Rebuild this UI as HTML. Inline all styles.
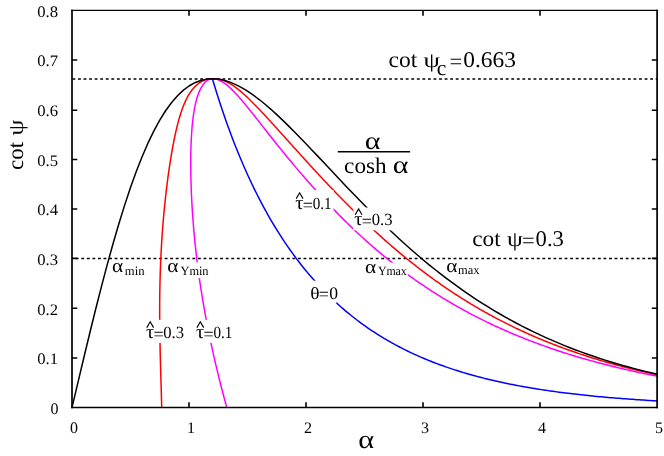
<!DOCTYPE html>
<html><head><meta charset="utf-8"><title>chart</title><style>html,body{margin:0;padding:0;background:#fff}svg{display:block}</style></head><body>
<svg style="will-change:transform" width="664" height="456" viewBox="0 0 664 456">
<style>text{font-family:"Liberation Serif",serif;fill:#000;text-rendering:geometricPrecision}</style>
<rect width="664" height="456" fill="#fff"/>
<line x1="72.0" x2="657.0" y1="78.95" y2="78.95" stroke="#000" stroke-width="1.5" stroke-dasharray="2.85 2.705" stroke-dashoffset="5.11"/>
<line x1="72.0" x2="657.0" y1="258.45" y2="258.45" stroke="#000" stroke-width="1.5" stroke-dasharray="2.85 2.705" stroke-dashoffset="1.8"/>
<path d="M161.71,407.60 L161.66,405.40 L161.60,403.21 L161.54,401.03 L161.48,398.86 L161.42,396.69 L161.36,394.53 L161.30,392.38 L161.24,390.24 L161.18,388.10 L161.12,385.97 L161.05,383.85 L160.99,381.73 L160.93,379.62 L160.87,377.52 L160.81,375.43 L160.75,373.34 L160.69,371.26 L160.63,369.19 L160.58,367.13 L160.52,365.07 L160.47,363.02 L160.41,360.98 L160.36,358.95 L160.31,356.92 L160.26,354.90 L160.21,352.89 L160.17,350.88 L160.12,348.88 L160.08,346.89 L160.04,344.91 L160.00,342.94 L159.96,340.97 L159.93,339.01 L159.89,337.05 L159.86,335.11 L159.83,333.17 L159.81,331.24 L159.78,329.31 L159.76,327.40 L159.74,325.49 L159.72,323.59 L159.71,321.69 L159.70,319.80 L159.69,317.92 L159.68,316.05 L159.67,314.19 L159.67,312.33 L159.67,310.48 L159.67,308.63 L159.67,306.80 L159.68,304.97 L159.69,303.15 L159.70,301.34 L159.72,299.53 L159.73,297.73 L159.75,295.94 L159.78,294.15 L159.80,292.38 L159.83,290.61 L159.86,288.85 L159.89,287.09 L159.92,285.34 L159.96,283.60 L160.00,281.87 L160.04,280.15 L160.09,278.43 L160.14,276.72 L160.18,275.01 L160.24,273.32 L160.29,271.63 L160.35,269.95 L160.41,268.27 L160.47,266.61 L160.53,264.95 L160.60,263.30 L160.67,261.65 L160.74,260.01 L160.81,258.38 L160.89,256.76 L160.97,255.15 L161.05,253.54 L161.13,251.94 L161.21,250.35 L161.30,248.76 L161.39,247.18 L161.48,245.61 L161.57,244.05 L161.67,242.49 L161.76,240.94 L161.86,239.40 L161.96,237.87 L162.07,236.34 L162.17,234.82 L162.28,233.31 L162.39,231.80 L162.50,230.31 L162.61,228.82 L162.72,227.33 L162.84,225.86 L162.95,224.39 L163.07,222.93 L163.19,221.48 L163.32,220.03 L163.44,218.59 L163.56,217.16 L163.69,215.74 L163.82,214.32 L163.95,212.91 L164.08,211.51 L164.21,210.12 L164.35,208.73 L164.48,207.35 L164.62,205.98 L164.76,204.61 L164.90,203.26 L165.04,201.91 L165.18,200.56 L165.32,199.23 L165.46,197.90 L165.61,196.58 L165.76,195.27 L165.90,193.96 L166.05,192.66 L166.20,191.37 L166.35,190.09 L166.51,188.81 L166.66,187.54 L166.81,186.28 L166.97,185.02 L167.13,183.78 L167.28,182.54 L167.44,181.30 L167.60,180.08 L167.76,178.86 L167.92,177.65 L168.08,176.45 L168.25,175.25 L168.41,174.06 L168.57,172.88 L168.74,171.71 L168.91,170.54 L169.07,169.38 L169.24,168.23 L169.41,167.09 L169.58,165.95 L169.75,164.82 L169.92,163.70 L170.09,162.59 L170.27,161.48 L170.44,160.38 L170.61,159.29 L170.79,158.20 L170.97,157.12 L171.14,156.05 L171.32,154.99 L171.50,153.93 L171.68,152.88 L171.86,151.84 L172.04,150.81 L172.22,149.78 L172.40,148.76 L172.59,147.75 L172.77,146.75 L172.96,145.75 L173.14,144.76 L173.33,143.78 L173.52,142.80 L173.71,141.84 L173.90,140.88 L174.09,139.92 L174.28,138.98 L174.47,138.04 L174.66,137.11 L174.86,136.19 L175.05,135.27 L175.25,134.36 L175.45,133.46 L175.64,132.57 L175.84,131.68 L176.04,130.80 L176.25,129.93 L176.45,129.06 L176.65,128.21 L176.86,127.36 L177.06,126.51 L177.27,125.68 L177.48,124.85 L177.69,124.03 L177.90,123.22 L178.11,122.41 L178.33,121.61 L178.54,120.82 L178.76,120.04 L178.98,119.26 L179.19,118.49 L179.41,117.73 L179.64,116.98 L179.86,116.23 L180.08,115.49 L180.31,114.76 L180.54,114.04 L180.77,113.32 L181.00,112.61 L181.23,111.91 L181.47,111.21 L181.70,110.52 L181.94,109.84 L182.18,109.17 L182.42,108.50 L182.66,107.84 L182.91,107.19 L183.16,106.55 L183.40,105.91 L183.66,105.28 L183.91,104.66 L184.16,104.05 L184.42,103.44 L184.68,102.84 L184.94,102.25 L185.20,101.66 L185.46,101.09 L185.73,100.52 L186.00,99.95 L186.27,99.40 L186.54,98.85 L186.82,98.31 L187.09,97.78 L187.37,97.25 L187.65,96.73 L187.94,96.22 L188.22,95.72 L188.51,95.22 L188.80,94.73 L189.09,94.25 L189.39,93.77 L189.69,93.31 L189.99,92.85 L190.29,92.39 L190.59,91.95 L190.90,91.51 L191.21,91.08 L191.52,90.66 L191.83,90.24 L192.15,89.83 L192.47,89.43 L192.79,89.04 L193.11,88.65 L193.44,88.27 L193.77,87.90 L194.10,87.54 L194.43,87.18 L194.76,86.83 L195.10,86.49 L195.44,86.15 L195.78,85.83 L196.13,85.51 L196.47,85.19 L196.82,84.89 L197.17,84.59 L197.52,84.30 L197.88,84.02 L198.24,83.74 L198.59,83.47 L198.96,83.21 L199.32,82.96 L199.68,82.71 L200.05,82.47 L200.42,82.24 L200.79,82.01 L201.16,81.80 L201.54,81.59 L201.91,81.39 L202.29,81.19 L202.67,81.00 L203.05,80.82 L203.43,80.65 L203.81,80.48 L204.20,80.33 L204.58,80.18 L204.97,80.03 L205.35,79.90 L205.74,79.77 L206.13,79.65 L206.52,79.53 L206.91,79.42 L207.30,79.33 L207.69,79.23 L208.08,79.15 L208.47,79.07 L208.86,79.00 L209.25,78.94 L209.65,78.88 L210.04,78.84 L210.43,78.80 L210.82,78.76 L211.20,78.74 L211.59,78.72 L211.98,78.71 L212.36,78.70 L212.36,78.70 L213.85,78.73 L215.34,78.80 L216.82,78.94 L218.31,79.16 L219.80,79.45 L221.29,79.83 L222.77,80.29 L224.26,80.84 L225.75,81.46 L227.23,82.16 L228.72,82.94 L230.21,83.79 L231.69,84.70 L233.18,85.68 L234.67,86.71 L236.16,87.80 L237.64,88.94 L239.13,90.13 L240.62,91.37 L242.10,92.64 L243.59,93.95 L245.08,95.30 L246.57,96.67 L248.05,98.08 L249.54,99.51 L251.03,100.97 L252.51,102.45 L254.00,103.94 L255.49,105.46 L256.98,106.99 L258.46,108.54 L259.95,110.10 L261.44,111.68 L262.92,113.26 L264.41,114.86 L265.90,116.46 L267.38,118.07 L268.87,119.69 L270.36,121.31 L271.85,122.94 L273.33,124.58 L274.82,126.22 L276.31,127.86 L277.79,129.50 L279.28,131.15 L280.77,132.80 L282.26,134.45 L283.74,136.11 L285.23,137.76 L286.72,139.41 L288.20,141.07 L289.69,142.72 L291.18,144.37 L292.66,146.03 L294.15,147.68 L295.64,149.33 L297.13,150.98 L298.61,152.62 L300.10,154.27 L301.59,155.91 L303.07,157.55 L304.56,159.19 L306.05,160.82 L307.54,162.45 L309.02,164.08 L310.51,165.71 L312.00,167.33 L313.48,168.94 L314.97,170.56 L316.46,172.17 L317.95,173.77 L319.43,175.38 L320.92,176.97 L322.41,178.56 L323.89,180.15 L325.38,181.74 L326.87,183.31 L328.35,184.89 L329.84,186.45 L331.33,188.02 L332.82,189.57 L334.30,191.13 L335.79,192.67 L337.28,194.21 L338.76,195.75 L340.25,197.28 L341.74,198.80 L343.23,200.32 L344.71,201.83 L346.20,203.33 L347.69,204.83 L349.17,206.32 L350.66,207.81 L352.15,209.29 L353.64,210.76 L355.12,212.23 L356.61,213.69 L358.10,215.14 L359.58,216.58 L361.07,218.02 L362.56,219.45 L364.04,220.88 L365.53,222.30 L367.02,223.71 L368.51,225.11 L369.99,226.51 L371.48,227.90 L372.97,229.28 L374.45,230.65 L375.94,232.02 L377.43,233.38 L378.92,234.73 L380.40,236.08 L381.89,237.42 L383.38,238.75 L384.86,240.07 L386.35,241.39 L387.84,242.70 L389.33,244.00 L390.81,245.29 L392.30,246.57 L393.79,247.85 L395.27,249.12 L396.76,250.39 L398.25,251.64 L399.73,252.89 L401.22,254.13 L402.71,255.36 L404.20,256.59 L405.68,257.80 L407.17,259.01 L408.66,260.22 L410.14,261.41 L411.63,262.60 L413.12,263.78 L414.61,264.95 L416.09,266.11 L417.58,267.27 L419.07,268.42 L420.55,269.56 L422.04,270.69 L423.53,271.82 L425.02,272.94 L426.50,274.05 L427.99,275.16 L429.48,276.25 L430.96,277.34 L432.45,278.43 L433.94,279.50 L435.42,280.57 L436.91,281.63 L438.40,282.68 L439.89,283.73 L441.37,284.76 L442.86,285.80 L444.35,286.82 L445.83,287.84 L447.32,288.85 L448.81,289.85 L450.30,290.84 L451.78,291.83 L453.27,292.81 L454.76,293.79 L456.24,294.75 L457.73,295.71 L459.22,296.67 L460.71,297.61 L462.19,298.55 L463.68,299.49 L465.17,300.41 L466.65,301.33 L468.14,302.24 L469.63,303.15 L471.11,304.05 L472.60,304.94 L474.09,305.82 L475.58,306.70 L477.06,307.57 L478.55,308.44 L480.04,309.30 L481.52,310.15 L483.01,311.00 L484.50,311.84 L485.99,312.67 L487.47,313.50 L488.96,314.32 L490.45,315.13 L491.93,315.94 L493.42,316.75 L494.91,317.54 L496.40,318.33 L497.88,319.12 L499.37,319.89 L500.86,320.66 L502.34,321.43 L503.83,322.19 L505.32,322.94 L506.80,323.69 L508.29,324.43 L509.78,325.17 L511.27,325.90 L512.75,326.63 L514.24,327.34 L515.73,328.06 L517.21,328.77 L518.70,329.47 L520.19,330.16 L521.68,330.86 L523.16,331.54 L524.65,332.22 L526.14,332.90 L527.62,333.56 L529.11,334.23 L530.60,334.89 L532.09,335.54 L533.57,336.19 L535.06,336.83 L536.55,337.47 L538.03,338.10 L539.52,338.73 L541.01,339.35 L542.49,339.97 L543.98,340.58 L545.47,341.18 L546.96,341.79 L548.44,342.38 L549.93,342.98 L551.42,343.56 L552.90,344.15 L554.39,344.72 L555.88,345.30 L557.37,345.86 L558.85,346.43 L560.34,346.99 L561.83,347.54 L563.31,348.09 L564.80,348.64 L566.29,349.18 L567.78,349.71 L569.26,350.24 L570.75,350.77 L572.24,351.29 L573.72,351.81 L575.21,352.32 L576.70,352.83 L578.18,353.34 L579.67,353.84 L581.16,354.34 L582.65,354.83 L584.13,355.32 L585.62,355.80 L587.11,356.28 L588.59,356.76 L590.08,357.23 L591.57,357.70 L593.06,358.16 L594.54,358.62 L596.03,359.08 L597.52,359.53 L599.00,359.98 L600.49,360.42 L601.98,360.86 L603.47,361.30 L604.95,361.73 L606.44,362.16 L607.93,362.59 L609.41,363.01 L610.90,363.43 L612.39,363.84 L613.87,364.25 L615.36,364.66 L616.85,365.07 L618.34,365.47 L619.82,365.86 L621.31,366.26 L622.80,366.65 L624.28,367.03 L625.77,367.42 L627.26,367.80 L628.75,368.17 L630.23,368.55 L631.72,368.92 L633.21,369.28 L634.69,369.65 L636.18,370.01 L637.67,370.36 L639.16,370.72 L640.64,371.07 L642.13,371.42 L643.62,371.76 L645.10,372.10 L646.59,372.44 L648.08,372.78 L649.56,373.11 L651.05,373.44 L652.54,373.77 L654.03,374.09 L655.51,374.41 L657.00,374.73" fill="none" stroke="#f00" stroke-width="1.5" stroke-linejoin="round"/>
<path d="M226.79,407.60 L226.19,405.40 L225.60,403.21 L225.01,401.03 L224.43,398.86 L223.85,396.69 L223.28,394.53 L222.72,392.38 L222.16,390.24 L221.60,388.10 L221.06,385.97 L220.52,383.85 L219.98,381.73 L219.45,379.62 L218.93,377.52 L218.41,375.43 L217.90,373.34 L217.40,371.26 L216.90,369.19 L216.40,367.13 L215.91,365.07 L215.43,363.02 L214.95,360.98 L214.48,358.95 L214.02,356.92 L213.56,354.90 L213.11,352.89 L212.66,350.88 L212.22,348.88 L211.78,346.89 L211.35,344.91 L210.93,342.94 L210.51,340.97 L210.09,339.01 L209.68,337.05 L209.28,335.11 L208.88,333.17 L208.49,331.24 L208.11,329.31 L207.73,327.40 L207.35,325.49 L206.98,323.59 L206.62,321.69 L206.26,319.80 L205.90,317.92 L205.55,316.05 L205.21,314.19 L204.87,312.33 L204.54,310.48 L204.21,308.63 L203.89,306.80 L203.57,304.97 L203.26,303.15 L202.95,301.34 L202.64,299.53 L202.35,297.73 L202.05,295.94 L201.76,294.15 L201.48,292.38 L201.20,290.61 L200.93,288.85 L200.66,287.09 L200.39,285.34 L200.13,283.60 L199.87,281.87 L199.62,280.15 L199.38,278.43 L199.13,276.72 L198.89,275.01 L198.66,273.32 L198.43,271.63 L198.21,269.95 L197.98,268.27 L197.77,266.61 L197.55,264.95 L197.34,263.30 L197.14,261.65 L196.94,260.01 L196.74,258.38 L196.55,256.76 L196.36,255.15 L196.17,253.54 L195.99,251.94 L195.82,250.35 L195.64,248.76 L195.47,247.18 L195.31,245.61 L195.14,244.05 L194.98,242.49 L194.83,240.94 L194.67,239.40 L194.53,237.87 L194.38,236.34 L194.24,234.82 L194.10,233.31 L193.96,231.80 L193.83,230.31 L193.70,228.82 L193.58,227.33 L193.46,225.86 L193.34,224.39 L193.22,222.93 L193.11,221.48 L193.00,220.03 L192.89,218.59 L192.79,217.16 L192.68,215.74 L192.59,214.32 L192.49,212.91 L192.40,211.51 L192.31,210.12 L192.22,208.73 L192.14,207.35 L192.06,205.98 L191.98,204.61 L191.90,203.26 L191.83,201.91 L191.76,200.56 L191.69,199.23 L191.62,197.90 L191.56,196.58 L191.50,195.27 L191.44,193.96 L191.39,192.66 L191.33,191.37 L191.28,190.09 L191.23,188.81 L191.19,187.54 L191.15,186.28 L191.10,185.02 L191.07,183.78 L191.03,182.54 L190.99,181.30 L190.96,180.08 L190.93,178.86 L190.91,177.65 L190.88,176.45 L190.86,175.25 L190.84,174.06 L190.82,172.88 L190.80,171.71 L190.79,170.54 L190.77,169.38 L190.76,168.23 L190.76,167.09 L190.75,165.95 L190.75,164.82 L190.74,163.70 L190.74,162.59 L190.75,161.48 L190.75,160.38 L190.76,159.29 L190.77,158.20 L190.78,157.12 L190.79,156.05 L190.80,154.99 L190.82,153.93 L190.84,152.88 L190.86,151.84 L190.88,150.81 L190.90,149.78 L190.93,148.76 L190.96,147.75 L190.99,146.75 L191.02,145.75 L191.05,144.76 L191.09,143.78 L191.13,142.80 L191.17,141.84 L191.21,140.88 L191.25,139.92 L191.30,138.98 L191.35,138.04 L191.40,137.11 L191.45,136.19 L191.50,135.27 L191.56,134.36 L191.62,133.46 L191.67,132.57 L191.74,131.68 L191.80,130.80 L191.86,129.93 L191.93,129.06 L192.00,128.21 L192.07,127.36 L192.14,126.51 L192.22,125.68 L192.30,124.85 L192.38,124.03 L192.46,123.22 L192.54,122.41 L192.63,121.61 L192.71,120.82 L192.80,120.04 L192.89,119.26 L192.99,118.49 L193.08,117.73 L193.18,116.98 L193.28,116.23 L193.38,115.49 L193.48,114.76 L193.59,114.04 L193.69,113.32 L193.80,112.61 L193.92,111.91 L194.03,111.21 L194.14,110.52 L194.26,109.84 L194.38,109.17 L194.50,108.50 L194.63,107.84 L194.75,107.19 L194.88,106.55 L195.01,105.91 L195.15,105.28 L195.28,104.66 L195.42,104.05 L195.55,103.44 L195.70,102.84 L195.84,102.25 L195.98,101.66 L196.13,101.09 L196.28,100.52 L196.43,99.95 L196.58,99.40 L196.74,98.85 L196.90,98.31 L197.06,97.78 L197.22,97.25 L197.38,96.73 L197.55,96.22 L197.71,95.72 L197.88,95.22 L198.06,94.73 L198.23,94.25 L198.41,93.77 L198.58,93.31 L198.76,92.85 L198.95,92.39 L199.13,91.95 L199.32,91.51 L199.50,91.08 L199.69,90.66 L199.88,90.24 L200.08,89.83 L200.27,89.43 L200.47,89.04 L200.67,88.65 L200.87,88.27 L201.07,87.90 L201.27,87.54 L201.48,87.18 L201.69,86.83 L201.90,86.49 L202.11,86.15 L202.32,85.83 L202.53,85.51 L202.75,85.19 L202.97,84.89 L203.18,84.59 L203.40,84.30 L203.62,84.02 L203.85,83.74 L204.07,83.47 L204.29,83.21 L204.52,82.96 L204.75,82.71 L204.97,82.47 L205.20,82.24 L205.43,82.01 L205.66,81.80 L205.89,81.59 L206.13,81.39 L206.36,81.19 L206.59,81.00 L206.83,80.82 L207.06,80.65 L207.29,80.48 L207.53,80.33 L207.76,80.18 L208.00,80.03 L208.24,79.90 L208.47,79.77 L208.71,79.65 L208.94,79.53 L209.17,79.42 L209.41,79.33 L209.64,79.23 L209.88,79.15 L210.11,79.07 L210.34,79.00 L210.57,78.94 L210.80,78.88 L211.03,78.84 L211.25,78.80 L211.48,78.76 L211.70,78.74 L211.92,78.72 L212.14,78.71 L212.36,78.70 L212.36,78.70 L213.85,78.78 L215.34,78.99 L216.82,79.36 L218.31,79.86 L219.80,80.49 L221.29,81.25 L222.77,82.12 L224.26,83.11 L225.75,84.19 L227.23,85.37 L228.72,86.64 L230.21,87.98 L231.69,89.39 L233.18,90.87 L234.67,92.40 L236.16,93.99 L237.64,95.62 L239.13,97.29 L240.62,98.99 L242.10,100.73 L243.59,102.49 L245.08,104.28 L246.57,106.09 L248.05,107.91 L249.54,109.75 L251.03,111.61 L252.51,113.47 L254.00,115.34 L255.49,117.22 L256.98,119.11 L258.46,120.99 L259.95,122.88 L261.44,124.77 L262.92,126.66 L264.41,128.55 L265.90,130.44 L267.38,132.33 L268.87,134.21 L270.36,136.09 L271.85,137.96 L273.33,139.83 L274.82,141.70 L276.31,143.56 L277.79,145.41 L279.28,147.26 L280.77,149.10 L282.26,150.94 L283.74,152.77 L285.23,154.59 L286.72,156.40 L288.20,158.21 L289.69,160.01 L291.18,161.80 L292.66,163.59 L294.15,165.36 L295.64,167.13 L297.13,168.89 L298.61,170.64 L300.10,172.39 L301.59,174.12 L303.07,175.85 L304.56,177.57 L306.05,179.28 L307.54,180.98 L309.02,182.68 L310.51,184.36 L312.00,186.04 L313.48,187.70 L314.97,189.36 L316.46,191.01 L317.95,192.65 L319.43,194.28 L320.92,195.90 L322.41,197.52 L323.89,199.12 L325.38,200.72 L326.87,202.30 L328.35,203.88 L329.84,205.44 L331.33,207.00 L332.82,208.55 L334.30,210.09 L335.79,211.62 L337.28,213.14 L338.76,214.65 L340.25,216.15 L341.74,217.64 L343.23,219.13 L344.71,220.60 L346.20,222.06 L347.69,223.52 L349.17,224.96 L350.66,226.40 L352.15,227.82 L353.64,229.24 L355.12,230.65 L356.61,232.05 L358.10,233.44 L359.58,234.81 L361.07,236.18 L362.56,237.54 L364.04,238.90 L365.53,240.24 L367.02,241.57 L368.51,242.89 L369.99,244.21 L371.48,245.51 L372.97,246.81 L374.45,248.09 L375.94,249.37 L377.43,250.64 L378.92,251.90 L380.40,253.15 L381.89,254.39 L383.38,255.62 L384.86,256.85 L386.35,258.06 L387.84,259.27 L389.33,260.46 L390.81,261.65 L392.30,262.83 L393.79,264.00 L395.27,265.16 L396.76,266.31 L398.25,267.46 L399.73,268.60 L401.22,269.72 L402.71,270.84 L404.20,271.95 L405.68,273.06 L407.17,274.15 L408.66,275.24 L410.14,276.31 L411.63,277.38 L413.12,278.45 L414.61,279.50 L416.09,280.55 L417.58,281.58 L419.07,282.61 L420.55,283.63 L422.04,284.65 L423.53,285.66 L425.02,286.65 L426.50,287.64 L427.99,288.63 L429.48,289.60 L430.96,290.57 L432.45,291.53 L433.94,292.49 L435.42,293.43 L436.91,294.37 L438.40,295.30 L439.89,296.23 L441.37,297.15 L442.86,298.06 L444.35,298.96 L445.83,299.86 L447.32,300.75 L448.81,301.63 L450.30,302.51 L451.78,303.37 L453.27,304.24 L454.76,305.09 L456.24,305.94 L457.73,306.78 L459.22,307.62 L460.71,308.45 L462.19,309.27 L463.68,310.09 L465.17,310.90 L466.65,311.70 L468.14,312.50 L469.63,313.29 L471.11,314.08 L472.60,314.85 L474.09,315.63 L475.58,316.39 L477.06,317.16 L478.55,317.91 L480.04,318.66 L481.52,319.40 L483.01,320.14 L484.50,320.87 L485.99,321.60 L487.47,322.32 L488.96,323.03 L490.45,323.74 L491.93,324.45 L493.42,325.14 L494.91,325.84 L496.40,326.52 L497.88,327.21 L499.37,327.88 L500.86,328.55 L502.34,329.22 L503.83,329.88 L505.32,330.54 L506.80,331.19 L508.29,331.83 L509.78,332.47 L511.27,333.11 L512.75,333.74 L514.24,334.36 L515.73,334.98 L517.21,335.60 L518.70,336.21 L520.19,336.81 L521.68,337.42 L523.16,338.01 L524.65,338.60 L526.14,339.19 L527.62,339.77 L529.11,340.35 L530.60,340.92 L532.09,341.49 L533.57,342.06 L535.06,342.62 L536.55,343.17 L538.03,343.72 L539.52,344.27 L541.01,344.81 L542.49,345.35 L543.98,345.88 L545.47,346.41 L546.96,346.94 L548.44,347.46 L549.93,347.98 L551.42,348.49 L552.90,349.00 L554.39,349.50 L555.88,350.00 L557.37,350.50 L558.85,350.99 L560.34,351.48 L561.83,351.97 L563.31,352.45 L564.80,352.93 L566.29,353.40 L567.78,353.87 L569.26,354.34 L570.75,354.80 L572.24,355.26 L573.72,355.71 L575.21,356.16 L576.70,356.61 L578.18,357.06 L579.67,357.50 L581.16,357.93 L582.65,358.37 L584.13,358.80 L585.62,359.22 L587.11,359.65 L588.59,360.07 L590.08,360.48 L591.57,360.90 L593.06,361.31 L594.54,361.71 L596.03,362.12 L597.52,362.52 L599.00,362.91 L600.49,363.31 L601.98,363.70 L603.47,364.08 L604.95,364.47 L606.44,364.85 L607.93,365.23 L609.41,365.60 L610.90,365.97 L612.39,366.34 L613.87,366.71 L615.36,367.07 L616.85,367.43 L618.34,367.79 L619.82,368.14 L621.31,368.49 L622.80,368.84 L624.28,369.18 L625.77,369.53 L627.26,369.87 L628.75,370.20 L630.23,370.54 L631.72,370.87 L633.21,371.20 L634.69,371.52 L636.18,371.85 L637.67,372.17 L639.16,372.49 L640.64,372.80 L642.13,373.11 L643.62,373.42 L645.10,373.73 L646.59,374.04 L648.08,374.34 L649.56,374.64 L651.05,374.94 L652.54,375.23 L654.03,375.52 L655.51,375.81 L657.00,376.10" fill="none" stroke="#f0f" stroke-width="1.5" stroke-linejoin="round"/>
<path d="M212.36,78.70 L214.59,86.09 L216.81,93.27 L219.03,100.24 L221.26,107.01 L223.48,113.59 L225.70,120.00 L227.92,126.23 L230.15,132.29 L232.37,138.20 L234.59,143.94 L236.82,149.54 L239.04,155.00 L241.26,160.32 L243.49,165.50 L245.71,170.55 L247.93,175.48 L250.16,180.29 L252.38,184.99 L254.60,189.57 L256.83,194.04 L259.05,198.40 L261.27,202.67 L263.50,206.83 L265.72,210.90 L267.94,214.87 L270.17,218.76 L272.39,222.55 L274.61,226.26 L276.83,229.89 L279.06,233.44 L281.28,236.91 L283.50,240.30 L285.73,243.62 L287.95,246.86 L290.17,250.04 L292.40,253.15 L294.62,256.19 L296.84,259.16 L299.07,262.07 L301.29,264.93 L303.51,267.72 L305.74,270.45 L307.96,273.12 L310.18,275.74 L312.41,278.31 L314.63,280.82 L316.85,283.28 L319.08,285.69 L321.30,288.05 L323.52,290.37 L325.75,292.63 L327.97,294.85 L330.19,297.03 L332.41,299.16 L334.64,301.25 L336.86,303.29 L339.08,305.30 L341.31,307.26 L343.53,309.19 L345.75,311.07 L347.98,312.92 L350.20,314.74 L352.42,316.52 L354.65,318.26 L356.87,319.97 L359.09,321.64 L361.32,323.28 L363.54,324.89 L365.76,326.47 L367.99,328.01 L370.21,329.53 L372.43,331.02 L374.66,332.48 L376.88,333.91 L379.10,335.31 L381.32,336.68 L383.55,338.03 L385.77,339.35 L387.99,340.65 L390.22,341.92 L392.44,343.17 L394.66,344.39 L396.89,345.59 L399.11,346.76 L401.33,347.92 L403.56,349.05 L405.78,350.16 L408.00,351.25 L410.23,352.31 L412.45,353.36 L414.67,354.39 L416.90,355.39 L419.12,356.38 L421.34,357.35 L423.57,358.30 L425.79,359.23 L428.01,360.15 L430.23,361.05 L432.46,361.93 L434.68,362.79 L436.90,363.64 L439.13,364.47 L441.35,365.28 L443.57,366.08 L445.80,366.86 L448.02,367.63 L450.24,368.39 L452.47,369.13 L454.69,369.86 L456.91,370.57 L459.14,371.27 L461.36,371.95 L463.58,372.62 L465.81,373.28 L468.03,373.93 L470.25,374.57 L472.48,375.19 L474.70,375.80 L476.92,376.40 L479.15,376.99 L481.37,377.57 L483.59,378.13 L485.81,378.69 L488.04,379.23 L490.26,379.77 L492.48,380.29 L494.71,380.81 L496.93,381.31 L499.15,381.81 L501.38,382.29 L503.60,382.77 L505.82,383.24 L508.05,383.70 L510.27,384.15 L512.49,384.59 L514.72,385.02 L516.94,385.45 L519.16,385.87 L521.39,386.28 L523.61,386.68 L525.83,387.07 L528.06,387.46 L530.28,387.84 L532.50,388.21 L534.72,388.58 L536.95,388.93 L539.17,389.29 L541.39,389.63 L543.62,389.97 L545.84,390.30 L548.06,390.63 L550.29,390.95 L552.51,391.26 L554.73,391.57 L556.96,391.87 L559.18,392.17 L561.40,392.46 L563.63,392.74 L565.85,393.02 L568.07,393.30 L570.30,393.57 L572.52,393.83 L574.74,394.09 L576.97,394.34 L579.19,394.59 L581.41,394.84 L583.63,395.08 L585.86,395.31 L588.08,395.55 L590.30,395.77 L592.53,395.99 L594.75,396.21 L596.97,396.43 L599.20,396.64 L601.42,396.84 L603.64,397.05 L605.87,397.25 L608.09,397.44 L610.31,397.63 L612.54,397.82 L614.76,398.00 L616.98,398.18 L619.21,398.36 L621.43,398.54 L623.65,398.71 L625.88,398.87 L628.10,399.04 L630.32,399.20 L632.54,399.36 L634.77,399.51 L636.99,399.66 L639.21,399.81 L641.44,399.96 L643.66,400.10 L645.88,400.25 L648.11,400.38 L650.33,400.52 L652.55,400.65 L654.78,400.78 L657.00,400.91" fill="none" stroke="#00f" stroke-width="1.5" stroke-linejoin="round"/>
<path d="M72.00,407.60 L77.85,382.82 L83.70,358.22 L89.55,333.99 L95.40,310.30 L101.25,287.31 L107.10,265.18 L112.95,244.03 L118.80,223.98 L124.65,205.13 L130.50,187.55 L136.35,171.30 L142.20,156.43 L148.05,142.93 L153.90,130.84 L159.75,120.12 L165.60,110.75 L171.45,102.71 L177.30,95.94 L183.15,90.39 L189.00,85.99 L194.85,82.70 L200.70,80.43 L206.55,79.12 L212.40,78.70 L218.25,79.11 L224.10,80.27 L229.95,82.11 L235.80,84.59 L241.65,87.62 L247.50,91.16 L253.35,95.15 L259.20,99.54 L265.05,104.27 L270.90,109.31 L276.75,114.61 L282.60,120.14 L288.45,125.85 L294.30,131.71 L300.15,137.70 L306.00,143.78 L311.85,149.94 L317.70,156.13 L323.55,162.36 L329.40,168.59 L335.25,174.81 L341.10,181.01 L346.95,187.16 L352.80,193.27 L358.65,199.31 L364.50,205.28 L370.35,211.18 L376.20,216.98 L382.05,222.70 L387.90,228.31 L393.75,233.82 L399.60,239.23 L405.45,244.52 L411.30,249.70 L417.15,254.77 L423.00,259.72 L428.85,264.56 L434.70,269.27 L440.55,273.87 L446.40,278.35 L452.25,282.71 L458.10,286.96 L463.95,291.09 L469.80,295.10 L475.65,299.01 L481.50,302.79 L487.35,306.47 L493.20,310.04 L499.05,313.50 L504.90,316.86 L510.75,320.12 L516.60,323.27 L522.45,326.32 L528.30,329.28 L534.15,332.14 L540.00,334.91 L545.85,337.59 L551.70,340.18 L557.55,342.68 L563.40,345.10 L569.25,347.44 L575.10,349.70 L580.95,351.88 L586.80,353.99 L592.65,356.03 L598.50,357.99 L604.35,359.88 L610.20,361.71 L616.05,363.47 L621.90,365.18 L627.75,366.81 L633.60,368.39 L639.45,369.92 L645.30,371.39 L651.15,372.80 L657.00,374.16" fill="none" stroke="#000" stroke-width="1.5" stroke-linejoin="round"/>
<rect x="145" y="319.8" width="40.30" height="23.10" fill="#fff"/>
<rect x="195.2" y="319.8" width="38.30" height="23.10" fill="#fff"/>
<rect x="167" y="262.3" width="41.60" height="15.80" fill="#fff"/>
<rect x="294.5" y="190" width="39.00" height="23.00" fill="#fff"/>
<rect x="353.4" y="207.5" width="40.20" height="22.80" fill="#fff"/>
<rect x="364.8" y="262.7" width="43.00" height="15.60" fill="#fff"/>
<rect x="310" y="280.7" width="26.50" height="22.50" fill="#fff"/>
<path d="M72.0,9.70 V408.35 M657.1,9.70 V408.35" fill="none" stroke="#000" stroke-width="1.7"/>
<path d="M71.15,10.35 H657.95" fill="none" stroke="#000" stroke-width="1.3"/>
<path d="M71.15,407.6 H657.95" fill="none" stroke="#000" stroke-width="1.5"/>
<path d="M189.00,407.6 v-5.3 M189.00,10.35 v5.3 M306.00,407.6 v-5.3 M306.00,10.35 v5.3 M423.00,407.6 v-5.3 M423.00,10.35 v5.3 M540.00,407.6 v-5.3 M540.00,10.35 v5.3 M72.0,357.94 h5.3 M657.1,357.94 h-5.3 M72.0,308.29 h5.3 M657.1,308.29 h-5.3 M72.0,258.40 h5.3 M657.1,258.40 h-5.3 M72.0,209.00 h5.3 M657.1,209.00 h-5.3 M72.0,159.45 h5.3 M657.1,159.45 h-5.3 M72.0,110.25 h5.3 M657.1,110.25 h-5.3 M72.0,60.00 h5.3 M657.1,60.00 h-5.3" stroke="#000" stroke-width="1.6" fill="none"/>
<text x="73.9" y="432.5" font-size="16" text-anchor="middle">0</text>
<text x="190.9" y="432.5" font-size="16" text-anchor="middle">1</text>
<text x="307.9" y="432.5" font-size="16" text-anchor="middle">2</text>
<text x="424.9" y="432.5" font-size="16" text-anchor="middle">3</text>
<text x="541.9" y="432.5" font-size="16" text-anchor="middle">4</text>
<text x="658.9" y="432.5" font-size="16" text-anchor="middle">5</text>
<text x="58.4" y="413.9" font-size="16" text-anchor="end">0</text>
<text x="37.3" y="364.1" font-size="16" textLength="20.8" lengthAdjust="spacingAndGlyphs">0.1</text>
<text x="37.3" y="314.5" font-size="16" textLength="20.8" lengthAdjust="spacingAndGlyphs">0.2</text>
<text x="37.3" y="264.8" font-size="16" textLength="20.8" lengthAdjust="spacingAndGlyphs">0.3</text>
<text x="37.3" y="215.2" font-size="16" textLength="20.8" lengthAdjust="spacingAndGlyphs">0.4</text>
<text x="37.3" y="165.5" font-size="16" textLength="20.8" lengthAdjust="spacingAndGlyphs">0.5</text>
<text x="37.3" y="115.9" font-size="16" textLength="20.8" lengthAdjust="spacingAndGlyphs">0.6</text>
<text x="37.3" y="66.2" font-size="16" textLength="20.8" lengthAdjust="spacingAndGlyphs">0.7</text>
<text x="37.3" y="16.6" font-size="16" textLength="20.8" lengthAdjust="spacingAndGlyphs">0.8</text>
<text transform="translate(358.18,448.2) scale(1.183,1)" font-size="25.74">α</text>
<g transform="translate(23,169.5) rotate(-90)">
<text x="-0.5" y="0" font-size="22.5" textLength="28.1" lengthAdjust="spacingAndGlyphs">cot</text>
<text transform="translate(33.95,-0.48) scale(1.181,1)" font-size="21.38">ψ</text>
</g>
<text x="388.5" y="67.0" font-size="22.5" textLength="28.8" lengthAdjust="spacingAndGlyphs">cot</text>
<text transform="translate(423.44,67.05) scale(1.258,1)" font-size="20.75">ψ</text>
<text x="436.7" y="74.6" font-size="21.5">c</text>
<text x="449.5" y="68.6" font-size="22.5">=</text>
<text x="463.3" y="67.0" font-size="22.5" textLength="52.6" lengthAdjust="spacingAndGlyphs">0.663</text>
<text x="472.2" y="246.0" font-size="22.5" textLength="28.5" lengthAdjust="spacingAndGlyphs">cot</text>
<text transform="translate(506.95,245.52) scale(1.181,1)" font-size="21.38">ψ</text>
<text x="522.1" y="247.5" font-size="22.5">=</text>
<text x="535.6" y="246.0" font-size="22.5" textLength="28.3" lengthAdjust="spacingAndGlyphs">0.3</text>
<text transform="translate(364.80,148.8) scale(1.216,1)" font-size="24.68">α</text>
<line x1="337.8" x2="410.1" y1="151.8" y2="151.8" stroke="#000" stroke-width="1.5"/>
<text x="344.1" y="173.3" font-size="22.5" textLength="42.5" lengthAdjust="spacingAndGlyphs">cosh</text>
<text transform="translate(392.80,173.3) scale(1.216,1)" font-size="24.68">α</text>
<text transform="translate(145.89,337.8) scale(1.073,1)" font-size="18.91">τ</text>
<path d="M146.80,327.60 L150.20,321.80 L153.60,327.60" fill="none" stroke="#000" stroke-width="1.15"/>
<text x="153.40" y="339.50" font-size="18">=</text>
<text x="163.30" y="337.80" font-size="17" textLength="20.8" lengthAdjust="spacingAndGlyphs">0.3</text>
<text transform="translate(195.99,337.8) scale(1.073,1)" font-size="18.91">τ</text>
<path d="M196.90,327.60 L200.30,321.80 L203.70,327.60" fill="none" stroke="#000" stroke-width="1.15"/>
<text x="203.50" y="339.50" font-size="18">=</text>
<text x="213.40" y="337.80" font-size="17" textLength="18.900000000000002" lengthAdjust="spacingAndGlyphs">0.1</text>
<text transform="translate(295.29,208.8) scale(1.073,1)" font-size="18.91">τ</text>
<path d="M296.20,198.60 L299.60,192.80 L303.00,198.60" fill="none" stroke="#000" stroke-width="1.15"/>
<text x="302.80" y="210.50" font-size="18">=</text>
<text x="312.70" y="208.80" font-size="17" textLength="18.900000000000002" lengthAdjust="spacingAndGlyphs">0.1</text>
<text transform="translate(354.29,225.0) scale(1.073,1)" font-size="18.91">τ</text>
<path d="M355.20,214.80 L358.60,209.00 L362.00,214.80" fill="none" stroke="#000" stroke-width="1.15"/>
<text x="361.80" y="226.70" font-size="18">=</text>
<text x="371.70" y="225.00" font-size="17" textLength="20.8" lengthAdjust="spacingAndGlyphs">0.3</text>
<text transform="translate(310.18,298.5) scale(1.146,1)" font-size="17.00">θ</text>
<text x="318.7" y="300.3" font-size="18">=</text>
<text x="329.2" y="298.5" font-size="17.6">0</text>
<text transform="translate(111.95,272.4) scale(1.114,1)" font-size="19.15">α</text>
<text x="124.8" y="274.5" font-size="12.7" textLength="19.7" lengthAdjust="spacingAndGlyphs">min</text>
<text transform="translate(167.15,272.4) scale(1.114,1)" font-size="19.15">α</text>
<text x="180.5" y="274.5" font-size="12.7" textLength="28.0" lengthAdjust="spacingAndGlyphs">Ymin</text>
<text transform="translate(364.95,272.7) scale(1.114,1)" font-size="19.15">α</text>
<text x="377.90000000000003" y="274.8" font-size="12.7" textLength="28.900000000000002" lengthAdjust="spacingAndGlyphs">Ymax</text>
<text transform="translate(446.15,272.0) scale(1.114,1)" font-size="19.15">α</text>
<text x="458.0" y="274.1" font-size="12.7" textLength="21.5" lengthAdjust="spacingAndGlyphs">max</text>
</svg>
</body></html>
